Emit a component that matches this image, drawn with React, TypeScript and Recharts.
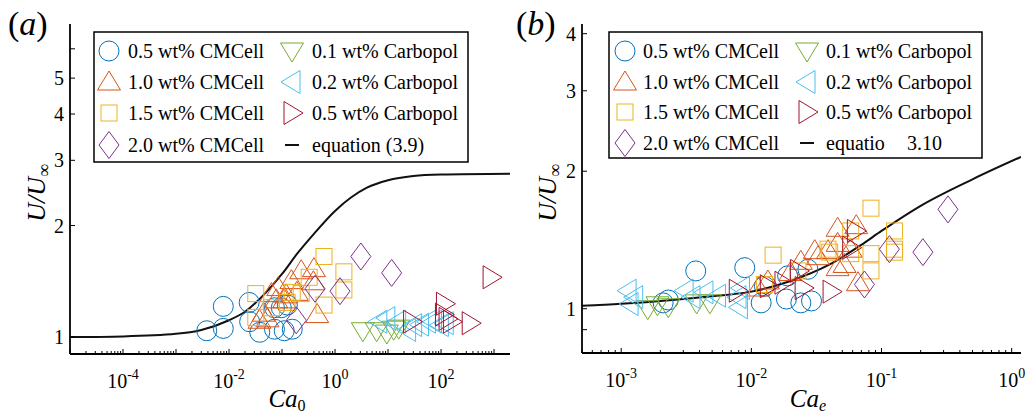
import React from "react";
import { ComposedChart, Scatter, Line, XAxis, YAxis } from "recharts";

const FONT = "'Liberation Serif', 'Times New Roman', serif";

type Pt = [number, number];
type Kind = "o" | "^" | "s" | "d" | "v" | "<" | ">";

// ---- panel (a): Ca0 vs U/Uinf ----
const cmc05A: Pt[] = [
  [0.0038, 1.04], [0.0078, 1.055], [0.0078, 1.21], [0.024, 1.24], [0.0245, 1.1],
  [0.038, 1.03], [0.072, 1.05], [0.11, 1.04], [0.156, 1.05], [0.072, 1.2],
  [0.097, 1.2], [0.126, 1.22],
];
const cmc10A: Pt[] = [
  [0.0375, 1.11], [0.053, 1.12], [0.045, 1.16], [0.063, 1.31], [0.078, 1.26],
  [0.085, 1.36], [0.11, 1.26], [0.12, 1.3], [0.15, 1.42], [0.19, 1.32],
  [0.23, 1.51], [0.39, 1.41], [0.4, 1.53], [0.46, 1.15],
];
const cmc15A: Pt[] = [
  [0.032, 1.31], [0.032, 1.13], [0.063, 1.2], [0.125, 1.24], [0.156, 1.32],
  [0.23, 1.31], [0.325, 1.45], [0.62, 1.65], [0.62, 1.22], [1.47, 1.5], [1.47, 1.34],
];
const cmc20A: Pt[] = [[3.07, 1.65], [11.7, 1.49], [0.42, 1.35], [1.24, 1.33], [0.186, 1.11]];
const carb01A: Pt[] = [[3.35, 1.04], [6.1, 1.04], [9.5, 1.025], [12.8, 1.05], [15.9, 1.057]];
const carb02A: Pt[] = [
  [6.7, 1.1], [9.5, 1.125], [15.2, 1.1], [23.4, 1.045], [30.4, 1.077],
  [41, 1.08], [55.6, 1.1], [72, 1.1], [97, 1.077], [120, 1.09],
];
const carb05A: Pt[] = [[27.8, 1.1], [116, 1.23], [111, 1.15], [157, 1.1], [355, 1.09], [880, 1.45], [130, 1.12]];
const eqA: Pt[] = [
  [1e-5, 1.0], [1e-4, 1.004], [1e-3, 1.02], [3e-3, 1.045], [0.01, 1.11], [0.02, 1.17],
  [0.05, 1.32], [0.1, 1.48], [0.2, 1.69], [0.4, 1.9], [1, 2.19], [2, 2.38],
  [4, 2.53], [10, 2.65], [30, 2.72], [100, 2.745], [2000, 2.76],
];

// ---- panel (b): Ca_e vs U/Uinf ----
const cmc05B: Pt[] = [
  [0.00374, 1.21], [0.0089, 1.23], [0.0021, 1.03], [0.0023, 1.045], [0.0119, 1.03],
  [0.0186, 1.05], [0.024, 1.03], [0.029, 1.04], [0.0272, 1.22], [0.019, 1.18], [0.0126, 1.12],
];
const cmc10B: Pt[] = [
  [0.0113, 1.11], [0.0134, 1.15], [0.02, 1.2], [0.024, 1.27], [0.0307, 1.34],
  [0.0325, 1.3], [0.0388, 1.34], [0.046, 1.39], [0.046, 1.5], [0.046, 1.23],
  [0.052, 1.25], [0.064, 1.52], [0.066, 1.14], [0.058, 1.35],
];
const cmc15B: Pt[] = [
  [0.0147, 1.31], [0.0126, 1.13], [0.0228, 1.21], [0.0388, 1.35], [0.04, 1.33],
  [0.058, 1.48], [0.058, 1.32], [0.083, 1.66], [0.083, 1.32], [0.083, 1.21],
  [0.126, 1.48], [0.126, 1.35], [0.126, 1.33],
];
const cmc20B: Pt[] = [[0.324, 1.65], [0.208, 1.33], [0.115, 1.35], [0.074, 1.13]];
const carb01B: Pt[] = [[0.0016, 1.0], [0.0019, 1.02], [0.0023, 1.01], [0.0038, 1.03], [0.0048, 1.03]];
const carb02B: Pt[] = [
  [0.00113, 1.095], [0.00117, 1.024], [0.00127, 1.06], [0.0031, 1.095], [0.0035, 1.06],
  [0.0044, 1.086], [0.0055, 1.068], [0.0079, 1.06], [0.0084, 1.11], [0.0081, 1.007],
];
const carb05B: Pt[] = [
  [0.0078, 1.095], [0.0135, 1.12], [0.0175, 1.14], [0.023, 1.21], [0.025, 1.11],
  [0.041, 1.09], [0.063, 1.48], [0.058, 1.36],
];
const eqB: Pt[] = [
  [5e-4, 1.015], [1e-3, 1.025], [2e-3, 1.04], [5e-3, 1.065], [0.01, 1.09], [0.02, 1.15],
  [0.04, 1.25], [0.07, 1.38], [0.1, 1.48], [0.2, 1.68], [0.5, 1.92], [1.18, 2.15],
];

// axes
const xTicksA = [1e-5, 2e-5, 3e-5, 4e-5, 5e-5, 6e-5, 7e-5, 8e-5, 9e-5,
  1e-4, 2e-4, 3e-4, 4e-4, 5e-4, 6e-4, 7e-4, 8e-4, 9e-4,
  1e-3, 2e-3, 3e-3, 4e-3, 5e-3, 6e-3, 7e-3, 8e-3, 9e-3,
  0.01, 0.02, 0.03, 0.04, 0.05, 0.06, 0.07, 0.08, 0.09,
  0.1, 0.2, 0.3, 0.4, 0.5, 0.6, 0.7, 0.8, 0.9,
  1, 2, 3, 4, 5, 6, 7, 8, 9, 10, 20, 30, 40, 50, 60, 70, 80, 90,
  100, 200, 300, 400, 500, 600, 700, 800, 900, 1000];
const xLabelsA = [1e-4, 1e-2, 1, 100];
const yTicksA = [1, 2, 3, 4, 5, 6];
const yLabelsA = [1, 2, 3, 4, 5];

const xTicksB = [5e-4, 6e-4, 7e-4, 8e-4, 9e-4,
  1e-3, 2e-3, 3e-3, 4e-3, 5e-3, 6e-3, 7e-3, 8e-3, 9e-3,
  0.01, 0.02, 0.03, 0.04, 0.05, 0.06, 0.07, 0.08, 0.09,
  0.1, 0.2, 0.3, 0.4, 0.5, 0.6, 0.7, 0.8, 0.9, 1];
const xLabelsB = [1e-3, 1e-2, 0.1, 1];
const yTicksB = [0.9, 1, 2, 3, 4];
const yLabelsB = [1, 2, 3, 4];

const legendCol1 = ["0.5 wt% CMCell", "1.0 wt% CMCell", "1.5 wt% CMCell", "2.0 wt% CMCell"];
const legendCol2 = ["0.1 wt% Carbopol", "0.2 wt% Carbopol", "0.5 wt% Carbopol"];

const kinds: Kind[] = ["o", "^", "s", "d", "v", "<", ">"];
const colors = ["#0072BD", "#D95319", "#EDB120", "#7E2F8E", "#77AC30", "#4DBEEE", "#A2142F"];

const toXY = (d: Pt[]) => d.map(([x, y]) => ({ x, y }));

function Marker({ kind, cx, cy, color }: { kind: Kind; cx: number; cy: number; color: string }) {
  const st = { fill: "none", stroke: color, strokeWidth: 1 };
  switch (kind) {
    case "o":
      return <circle cx={cx} cy={cy} r={10} {...st} />;
    case "^":
      return <polygon points={`${cx},${cy - 11} ${cx + 11.5},${cy + 8} ${cx - 11.5},${cy + 8}`} {...st} />;
    case "v":
      return <polygon points={`${cx},${cy + 11} ${cx + 11.5},${cy - 8} ${cx - 11.5},${cy - 8}`} {...st} />;
    case "<":
      return <polygon points={`${cx - 11},${cy} ${cx + 8},${cy - 11.5} ${cx + 8},${cy + 11.5}`} {...st} />;
    case ">":
      return <polygon points={`${cx + 11},${cy} ${cx - 8},${cy - 11.5} ${cx - 8},${cy + 11.5}`} {...st} />;
    case "s":
      return <rect x={cx - 8} y={cy - 8} width={16} height={16} {...st} />;
    default:
      return <polygon points={`${cx},${cy - 13.5} ${cx + 10},${cy} ${cx},${cy + 13.5} ${cx - 10},${cy}`} {...st} />;
  }
}

const isDecade = (v: number) => Math.abs(Math.log10(v) - Math.round(Math.log10(v))) < 1e-9;
const frame = { stroke: "#000", strokeWidth: 1.8 };

function PowLabel({ x, y, v }: { x: number; y: number; v: number }) {
  const e = Math.round(Math.log10(v));
  return (
    <text x={x} y={y} textAnchor="middle" fontFamily={FONT} fontSize={20} fill="#000">
      10<tspan dy={-9} fontSize={14}>{String(e)}</tspan>
    </text>
  );
}

interface PanelProps {
  sets: Pt[][];
  curve: Pt[];
  xDomain: [number, number];
  xTicks: number[];
  xLabels: number[];
  yDomain: [number, number];
  yTicks: number[];
  yLabels: number[];
  width: number;
  margin: { top: number; right: number; bottom: number; left: number };
}

function Panel(p: PanelProps) {
  const bottomTick = (t: any) => {
    const v = t.payload.value;
    const len = isDecade(v) ? 5 : 3;
    return (
      <g>
        <line x1={t.x} x2={t.x} y1={t.y} y2={t.y - len} stroke="#000" strokeWidth={1} />
        {p.xLabels.some((l) => Math.abs(l - v) / l < 1e-9) && <PowLabel x={t.x} y={t.y + 34} v={v} />}
      </g>
    );
  };
  const topTick = (t: any) => {
    const len = isDecade(t.payload.value) ? 5 : 3;
    return <line x1={t.x} x2={t.x} y1={t.y} y2={t.y + len} stroke="#000" strokeWidth={1} />;
  };
  const leftTick = (t: any) => {
    const v = t.payload.value;
    return (
      <g>
        <line x1={t.x} x2={t.x + 5} y1={t.y} y2={t.y} stroke="#000" strokeWidth={1} />
        {p.yLabels.includes(v) && (
          <text x={t.x - 6} y={t.y + 7} textAnchor="end" fontFamily={FONT} fontSize={20} fill="#000">
            {v}
          </text>
        )}
      </g>
    );
  };
  const rightTick = (t: any) => (
    <line x1={t.x} x2={t.x - 5} y1={t.y} y2={t.y} stroke="#000" strokeWidth={1} />
  );

  return (
    <ComposedChart width={p.width} height={418} margin={p.margin}>
      <XAxis xAxisId="b" dataKey="x" type="number" scale="log" domain={p.xDomain} allowDataOverflow
        ticks={p.xTicks} interval={0} tickSize={0} tickMargin={0} tickLine={false} axisLine={frame}
        height={30} tick={bottomTick} />
      <XAxis xAxisId="t" orientation="top" dataKey="x" type="number" scale="log" domain={p.xDomain} allowDataOverflow
        ticks={p.xTicks} interval={0} tickSize={0} tickMargin={0} tickLine={false} axisLine={frame}
        height={0} tick={topTick} />
      <YAxis yAxisId="l" dataKey="y" type="number" scale="log" domain={p.yDomain} allowDataOverflow
        ticks={p.yTicks} interval={0} tickSize={0} tickMargin={0} tickLine={false} axisLine={frame}
        width={60} tick={leftTick} />
      <YAxis yAxisId="r" orientation="right" dataKey="y" type="number" scale="log" domain={p.yDomain} allowDataOverflow
        ticks={p.yTicks} interval={0} tickSize={0} tickMargin={0} tickLine={false} axisLine={frame}
        width={0} tick={rightTick} />
      {p.sets.map((d, i) => (
        <Scatter key={i} xAxisId="b" yAxisId="l" data={toXY(d)} dataKey="y" isAnimationActive={false}
          shape={(s: any) => <Marker kind={kinds[i]} cx={s.cx} cy={s.cy} color={colors[i]} />} />
      ))}
      <Line xAxisId="b" yAxisId="l" data={toXY(p.curve)} dataKey="y" type="monotone" stroke="#111"
        strokeWidth={2} dot={false} activeDot={false} isAnimationActive={false} />
    </ComposedChart>
  );
}

function LegendBox({ x, y, w, h, rows, m1, t1, m2, t2, last }: {
  x: number; y: number; w: number; h: number; rows: number[];
  m1: number; t1: number; m2: number; t2: number; last: React.ReactNode;
}) {
  return (
    <g fontFamily={FONT} fontSize={20} fill="#000">
      <rect x={x} y={y} width={w} height={h} fill="#fff" stroke="#000" strokeWidth={1.5} />
      {legendCol1.map((s, i) => (
        <g key={s}>
          <Marker kind={kinds[i]} cx={m1} cy={rows[i]} color={colors[i]} />
          <text x={t1} y={rows[i] + 7}>{s}</text>
        </g>
      ))}
      {legendCol2.map((s, i) => (
        <g key={s}>
          <Marker kind={kinds[i + 4]} cx={m2} cy={rows[i]} color={colors[i + 4]} />
          <text x={t2} y={rows[i] + 7}>{s}</text>
        </g>
      ))}
      <line x1={m2 - 7} x2={m2 + 7} y1={rows[3]} y2={rows[3]} stroke="#111" strokeWidth={2} />
      <text x={t2} y={rows[3] + 7}>{last}</text>
    </g>
  );
}

export default function App() {
  return (
    <div style={{ position: "absolute", left: 0, top: 0, width: 1028, height: 418, background: "#fff" }}>
      <div style={{ position: "absolute", left: 0, top: 0 }}>
        <Panel sets={[cmc05A, cmc10A, cmc15A, cmc20A, carb01A, carb02A, carb05A]} curve={eqA}
          xDomain={[1e-5, 2000]} xTicks={xTicksA} xLabels={xLabelsA}
          yDomain={[0.9, 7]} yTicks={yTicksA} yLabels={yLabelsA}
          width={520} margin={{ top: 24, right: 10, bottom: 34, left: 10 }} />
      </div>
      <div style={{ position: "absolute", left: 520, top: 0 }}>
        <Panel sets={[cmc05B, cmc10B, cmc15B, cmc20B, carb01B, carb02B, carb05B]} curve={eqB}
          xDomain={[5e-4, 1.18]} xTicks={xTicksB} xLabels={xLabelsB}
          yDomain={[0.8, 4.2]} yTicks={yTicksB} yLabels={yLabelsB}
          width={508} margin={{ top: 24, right: 7, bottom: 35, left: 2 }} />
      </div>
      <svg width={1028} height={418} style={{ position: "absolute", left: 0, top: 0, pointerEvents: "none" }}>
        <LegendBox x={94} y={32} w={374} h={130} rows={[51, 82, 113, 145]} m1={109} t1={128} m2={292} t2={312}
          last="equation (3.9)" />
        <LegendBox x={609} y={32} w={373} h={126} rows={[51, 82, 112, 143]} m1={625} t1={643} m2={807} t2={826}
          last={<>equatio<tspan x={907}>3.10</tspan></>} />
        <g fontFamily={FONT} fill="#000">
          <text x={8} y={35} fontSize={34}>(<tspan fontStyle="italic">a</tspan>)</text>
          <text x={516} y={35} fontSize={34}>(<tspan fontStyle="italic">b</tspan>)</text>
          <text x={287} y={407} fontSize={25} textAnchor="middle">
            <tspan fontStyle="italic">Ca</tspan><tspan dy={4} fontSize={16}>0</tspan>
          </text>
          <text x={808} y={407} fontSize={25} textAnchor="middle">
            <tspan fontStyle="italic">Ca</tspan><tspan dy={4} fontSize={16} fontStyle="italic">e</tspan>
          </text>
          <text transform="translate(45,193) rotate(-90)" fontSize={26} textAnchor="middle">
            <tspan fontStyle="italic">U/U</tspan><tspan dy={5} fontSize={18}>∞</tspan>
          </text>
          <text transform="translate(556,193) rotate(-90)" fontSize={26} textAnchor="middle">
            <tspan fontStyle="italic">U/U</tspan><tspan dy={5} fontSize={18}>∞</tspan>
          </text>
        </g>
      </svg>
    </div>
  );
}
